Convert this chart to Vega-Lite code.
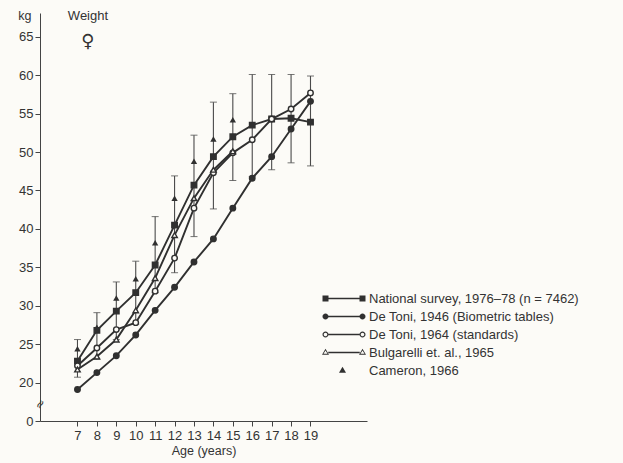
{
  "$schema": "https://vega.github.io/schema/vega-lite/v6.json",
  "width": 327,
  "height": 408,
  "autosize": {"type": "none"},
  "padding": {"left": 40, "top": 13, "right": 256, "bottom": 42},
  "background": "#fcfbf7",
  "config": {
    "view": {"stroke": null},
    "font": "Liberation Sans",
    "axis": {"grid": false, "domainColor": "#444", "tickColor": "#444", "labelColor": "#333", "titleColor": "#333", "labelFont": "Liberation Sans", "titleFont": "Liberation Sans", "titleFontWeight": "normal", "labelOverlap": false}
  },
  "datasets": {
    "lines": [
      {"series": "National survey, 1976–78 (n = 7462)", "age": 7, "kg": 22.8},
      {"series": "National survey, 1976–78 (n = 7462)", "age": 8, "kg": 26.8},
      {"series": "National survey, 1976–78 (n = 7462)", "age": 9, "kg": 29.3},
      {"series": "National survey, 1976–78 (n = 7462)", "age": 10, "kg": 31.7},
      {"series": "National survey, 1976–78 (n = 7462)", "age": 11, "kg": 35.3},
      {"series": "National survey, 1976–78 (n = 7462)", "age": 12, "kg": 40.5},
      {"series": "National survey, 1976–78 (n = 7462)", "age": 13, "kg": 45.7},
      {"series": "National survey, 1976–78 (n = 7462)", "age": 14, "kg": 49.4},
      {"series": "National survey, 1976–78 (n = 7462)", "age": 15, "kg": 52.0},
      {"series": "National survey, 1976–78 (n = 7462)", "age": 16, "kg": 53.5},
      {"series": "National survey, 1976–78 (n = 7462)", "age": 17, "kg": 54.3},
      {"series": "National survey, 1976–78 (n = 7462)", "age": 18, "kg": 54.4},
      {"series": "National survey, 1976–78 (n = 7462)", "age": 19, "kg": 53.9},
      {"series": "De Toni, 1946 (Biometric tables)", "age": 7, "kg": 19.1},
      {"series": "De Toni, 1946 (Biometric tables)", "age": 8, "kg": 21.3},
      {"series": "De Toni, 1946 (Biometric tables)", "age": 9, "kg": 23.5},
      {"series": "De Toni, 1946 (Biometric tables)", "age": 10, "kg": 26.2},
      {"series": "De Toni, 1946 (Biometric tables)", "age": 11, "kg": 29.4},
      {"series": "De Toni, 1946 (Biometric tables)", "age": 12, "kg": 32.4},
      {"series": "De Toni, 1946 (Biometric tables)", "age": 13, "kg": 35.7},
      {"series": "De Toni, 1946 (Biometric tables)", "age": 14, "kg": 38.7},
      {"series": "De Toni, 1946 (Biometric tables)", "age": 15, "kg": 42.7},
      {"series": "De Toni, 1946 (Biometric tables)", "age": 16, "kg": 46.6},
      {"series": "De Toni, 1946 (Biometric tables)", "age": 17, "kg": 49.4},
      {"series": "De Toni, 1946 (Biometric tables)", "age": 18, "kg": 53.0},
      {"series": "De Toni, 1946 (Biometric tables)", "age": 19, "kg": 56.6},
      {"series": "De Toni, 1964 (standards)", "age": 7, "kg": 22.2},
      {"series": "De Toni, 1964 (standards)", "age": 8, "kg": 24.5},
      {"series": "De Toni, 1964 (standards)", "age": 9, "kg": 26.9},
      {"series": "De Toni, 1964 (standards)", "age": 10, "kg": 27.8},
      {"series": "De Toni, 1964 (standards)", "age": 11, "kg": 31.9},
      {"series": "De Toni, 1964 (standards)", "age": 12, "kg": 36.2},
      {"series": "De Toni, 1964 (standards)", "age": 13, "kg": 42.7},
      {"series": "De Toni, 1964 (standards)", "age": 14, "kg": 47.3},
      {"series": "De Toni, 1964 (standards)", "age": 15, "kg": 49.9},
      {"series": "De Toni, 1964 (standards)", "age": 16, "kg": 51.6},
      {"series": "De Toni, 1964 (standards)", "age": 17, "kg": 54.3},
      {"series": "De Toni, 1964 (standards)", "age": 18, "kg": 55.6},
      {"series": "De Toni, 1964 (standards)", "age": 19, "kg": 57.7},
      {"series": "Bulgarelli et. al., 1965", "age": 7, "kg": 21.7},
      {"series": "Bulgarelli et. al., 1965", "age": 8, "kg": 23.4},
      {"series": "Bulgarelli et. al., 1965", "age": 9, "kg": 25.6},
      {"series": "Bulgarelli et. al., 1965", "age": 10, "kg": 29.4},
      {"series": "Bulgarelli et. al., 1965", "age": 11, "kg": 33.6},
      {"series": "Bulgarelli et. al., 1965", "age": 12, "kg": 39.2},
      {"series": "Bulgarelli et. al., 1965", "age": 13, "kg": 44.0},
      {"series": "Bulgarelli et. al., 1965", "age": 14, "kg": 47.7},
      {"series": "Bulgarelli et. al., 1965", "age": 15, "kg": 50.1}
    ],
    "sd": [
      {"age": 7, "low": 20.7, "high": 25.6},
      {"age": 8, "low": 23.0, "high": 29.1},
      {"age": 9, "low": 25.6, "high": 33.1},
      {"age": 10, "low": 27.6, "high": 35.8},
      {"age": 11, "low": 31.7, "high": 41.6},
      {"age": 12, "low": 34.3, "high": 46.9},
      {"age": 13, "low": 39.0, "high": 52.2},
      {"age": 14, "low": 42.6, "high": 56.5},
      {"age": 15, "low": 46.3, "high": 57.6},
      {"age": 16, "low": 46.8, "high": 60.1},
      {"age": 17, "low": 47.7, "high": 60.1},
      {"age": 18, "low": 48.6, "high": 60.1},
      {"age": 19, "low": 48.2, "high": 59.9}
    ],
    "cam": [
      {"age": 7, "kg": 24.4},
      {"age": 8, "kg": 27.2},
      {"age": 9, "kg": 31.0},
      {"age": 10, "kg": 33.5},
      {"age": 11, "kg": 38.2},
      {"age": 12, "kg": 44.0},
      {"age": 13, "kg": 48.8},
      {"age": 14, "kg": 51.7},
      {"age": 15, "kg": 54.2}
    ]
  },
  "layer": [
    {
      "data": {"name": "lines"},
      "mark": {"type": "line", "color": "#303030", "strokeWidth": 1.9},
      "encoding": {
        "x": {"field": "age", "type": "quantitative", "title": "Age (years)", "scale": {"domain": [5.07, 21.91], "nice": false, "zero": false},
          "axis": {"values": [7,8,9,10,11,12,13,14,15,16,17,18,19], "title": "Age (years)", "labelFontSize": 13, "titleFontSize": 12.5, "tickSize": 5, "labelPadding": 3, "titlePadding": 2, "labelFlush": false, "labelOverlap": false, "tickCount": 13}},
        "y": {"field": "kg", "type": "quantitative", "title": "kg", "scale": {"domain": [15, 68.1], "nice": false, "zero": false},
          "axis": {"values": [15,20,25,30,35,40,45,50,55,60,65], "labelExpr": "datum.value == 15 ? '0' : datum.label", "labelFontSize": 13, "tickSize": 5, "labelPadding": 2, "labelOverlap": false, "title": "kg", "titleAngle": 0, "titleAlign": "right", "titleBaseline": "middle", "titleX": -9, "titleY": 2, "titleFontSize": 12.5}},
        "detail": {"field": "series"}
      }
    },
    {
      "data": {"name": "sd"},
      "mark": {"type": "errorbar", "ticks": {"size": 7, "color": "#3a3a3a", "strokeWidth": 1.1}, "rule": {"color": "#4a4a4a", "strokeWidth": 1.1}},
      "encoding": {
        "x": {"field": "age", "type": "quantitative", "title": "Age (years)"},
        "y": {"field": "low", "type": "quantitative", "title": "kg"},
        "y2": {"field": "high", "title": "kg"}
      }
    },
    {
      "data": {"name": "lines"},
      "mark": {"type": "point", "stroke": "#303030", "strokeWidth": 1.4, "opacity": 1},
      "encoding": {
        "x": {"field": "age", "type": "quantitative", "title": "Age (years)"},
        "y": {"field": "kg", "type": "quantitative", "title": "kg"},
        "shape": {"field": "series", "type": "nominal", "legend": null,
          "scale": {"domain": ["National survey, 1976–78 (n = 7462)", "De Toni, 1946 (Biometric tables)", "De Toni, 1964 (standards)", "Bulgarelli et. al., 1965"], "range": ["square", "circle", "circle", "triangle-up"]}},
        "fill": {"field": "series", "type": "nominal", "legend": null,
          "scale": {"domain": ["National survey, 1976–78 (n = 7462)", "De Toni, 1946 (Biometric tables)", "De Toni, 1964 (standards)", "Bulgarelli et. al., 1965"], "range": ["#303030", "#303030", "#fcfbf7", "#fcfbf7"]}},
        "size": {"value": 30}
      }
    },
    {
      "data": {"name": "cam"},
      "mark": {"type": "point", "shape": "triangle-up", "filled": true, "color": "#303030", "size": 40, "opacity": 1},
      "encoding": {
        "x": {"field": "age", "type": "quantitative", "title": "Age (years)"},
        "y": {"field": "kg", "type": "quantitative", "title": "kg"}
      }
    },
    {
      "data": {"name": "lines"},
      "transform": [{"filter": "datum.age < 0"}],
      "mark": {"type": "point", "filled": true, "color": "#303030", "opacity": 1},
      "encoding": {
        "x": {"field": "age", "type": "quantitative", "title": "Age (years)"},
        "y": {"field": "kg", "type": "quantitative", "title": "kg"},
        "shape": {"field": "series", "type": "nominal",
          "scale": {"domain": ["National survey, 1976–78 (n = 7462)", "De Toni, 1946 (Biometric tables)", "De Toni, 1964 (standards)", "Bulgarelli et. al., 1965", "Cameron, 1966"],
            "range": [
              "M-0.6,-0.6H0.6V0.6H-0.6ZM6.8,-0.6H8V0.6H6.8ZM0.5,-0.16H6.9V0.16H0.5Z",
              "M0.6,0A0.6,0.6 0 1,1 -0.6,0A0.6,0.6 0 1,1 0.6,0ZM8,0A0.6,0.6 0 1,1 6.8,0A0.6,0.6 0 1,1 8,0ZM0.5,-0.16H6.9V0.16H0.5Z",
              "M0.6,0A0.6,0.6 0 1,1 -0.6,0A0.6,0.6 0 1,1 0.6,0ZM0.36,0A0.36,0.36 0 1,0 -0.36,0A0.36,0.36 0 1,0 0.36,0ZM8,0A0.6,0.6 0 1,1 6.8,0A0.6,0.6 0 1,1 8,0ZM7.76,0A0.36,0.36 0 1,0 7.04,0A0.36,0.36 0 1,0 7.76,0ZM0.6,-0.16H6.8V0.16H0.6Z",
              "M0,-0.75L0.7,0.45L-0.7,0.45ZM0,-0.38L-0.4,0.25L0.4,0.25ZM7.4,-0.75L8.1,0.45L6.7,0.45ZM7.4,-0.38L7,0.25L7.8,0.25ZM0.55,-0.16H6.85V0.16H0.55Z",
              "M3.4,-0.75L4.1,0.45L2.7,0.45Z"
            ]},
          "legend": {"orient": "none", "legendX": 279, "legendY": 279, "title": null, "symbolSize": 100, "symbolStrokeWidth": 0, "symbolFillColor": "#303030", "symbolOpacity": 1, "labelOffset": 37, "labelFontSize": 13, "labelColor": "#333", "labelFont": "Liberation Sans", "rowPadding": 4, "labelLimit": 300}
        }
      }
    },
    {
      "data": {"values": [{}]},
      "mark": {"type": "text", "fontSize": 13, "color": "#333", "font": "Liberation Sans", "baseline": "middle", "align": "center"},
      "encoding": {"x": {"datum": 7.54}, "y": {"datum": 67.7}, "text": {"value": "Weight"}}
    },
    {
      "data": {"values": [{}]},
      "mark": {"type": "text", "fontSize": 18, "color": "#333", "font": "DejaVu Sans", "baseline": "middle", "align": "center"},
      "encoding": {"x": {"datum": 7.54}, "y": {"datum": 64.3}, "text": {"value": "♀"}}
    },
    {
      "data": {"values": [{}]},
      "mark": {"type": "text", "fontSize": 12, "color": "#333", "font": "DejaVu Sans", "baseline": "middle", "align": "center", "angle": 300, "clip": false},
      "encoding": {"x": {"datum": 5.07}, "y": {"datum": 17.2}, "text": {"value": "≈"}}
    }
  ],
  "resolve": {"scale": {"shape": "independent", "fill": "independent"}}
}
